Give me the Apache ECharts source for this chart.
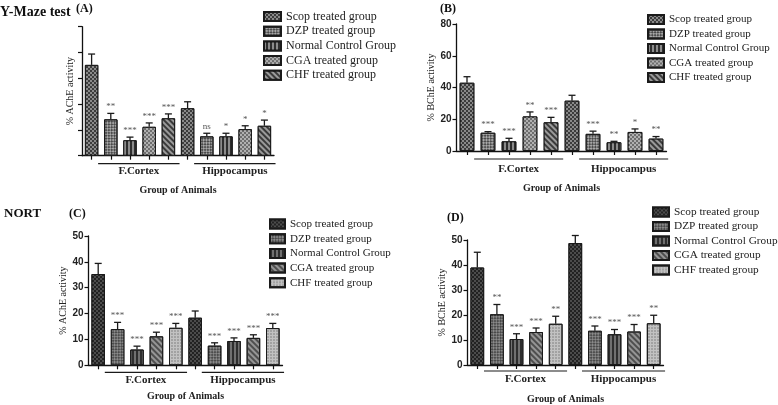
<!DOCTYPE html>
<html>
<head>
<meta charset="utf-8">
<script src="https://cdn.jsdelivr.net/npm/echarts@6/dist/echarts.min.js"></script>
<style>html,body{margin:0;padding:0;background:#fff}#c{width:778px;height:405px}</style>
</head>
<body>
<div id="c"></div>
<script>
// ---------- data ----------
const categories = ['FC-Scop','FC-DZP','FC-Normal','FC-CGA','FC-CHF','HC-Scop','HC-DZP','HC-Normal','HC-CGA','HC-CHF'];
const groupNames = ['Scop treated group','DZP treated group','Normal Control Group','CGA treated group','CHF treated group'];
const regionNames = ['F.Cortex','Hippocampus'];
const regionSpans = [[1,4],[6,9]];
const panelLetters = ['(A)','(B)','(C)','(D)'];
const testNames = ['Y-Maze test','NORT'];
const yNames = ['% AChE activity','% BChE activity','% AChE activity','% BChE activity'];
const xName = 'Group of Animals';

// Panel A: Y-Maze AChE
const aMean = [35.2,14.1,6.0,11.2,14.5,18.4,7.5,7.5,10.3,11.6];
const aErr  = [4.2,2.3,1.2,1.5,1.7,2.5,1.2,1.2,1.3,2.2];
const aSig  = ['','**','***','***','***','','ns','*','*','*'];
// Panel B: Y-Maze BChE
const bMean = [43.0,11.5,6.1,21.8,18.1,31.7,10.8,5.5,12.0,7.8];
const bErr  = [3.8,0.7,1.9,2.8,3.1,3.4,1.7,0.6,1.9,1.3];
const bSig  = ['','***','***','**','***','','***','**','*','**'];
// Panel C: NORT AChE
const cMean = [35.3,14.0,6.1,11.2,14.5,18.4,7.6,9.4,10.6,14.4];
const cErr  = [4.1,2.6,1.3,1.6,1.7,2.6,1.1,1.2,1.2,1.8];
const cSig  = ['','***','***','***','***','','***','***','***','***'];
// Panel D: NORT BChE
const dMean = [39.0,20.3,10.4,13.2,16.5,48.8,13.7,12.3,13.4,16.7];
const dErr  = [6.1,3.9,2.1,1.6,3.0,3.0,1.9,1.9,2.8,3.2];
const dSig  = ['','**','***','***','**','','***','***','***','**'];

const yMax = [50, 80, 50, 50];
const yInterval = [10, 20, 10, 10];
const showYLabels = [false, true, true, true];

// ---------- styling ----------
const SERIF = '"Liberation Serif", "Times New Roman", serif';
const SANS = '"Liberation Sans", Arial, sans-serif';

function checker(color, s, rot) {
  return {symbol:'rect', symbolSize:1, dashArrayX:[[s,s],[0,s,s,0]], dashArrayY:[s,0], rotation:rot||0, color:color};
}
function stripes(color, w, rot) {
  return {symbol:'rect', symbolSize:1, dashArrayX:[w,w], dashArrayY:[6,0], rotation:rot||0, color:color};
}
function dots(color) {
  return {symbol:'circle', symbolSize:0.8, dashArrayX:[2,1], dashArrayY:[2,1], rotation:0, color:color};
}

const styleSets = {
  ym: [
    {color:'#3c3c3c', decal: checker('#8a8a8a',2)},
    {color:'#a8a8a8', decal: checker('#4a4a4a',2,Math.PI/4)},
    {color:'#2e2e2e', decal: stripes('#8c8c8c',1.2)},
    {color:'#6e6e6e', decal: checker('#b0b0b0',1.5)},
    {color:'#3a3a3a', decal: stripes('#9a9a9a',1.3,-Math.PI/4)}
  ],
  nort: [
    {color:'#222222', decal: checker('#4c4c4c',2)},
    {color:'#4a4a4a', decal: checker('#8a8a8a',2,Math.PI/4)},
    {color:'#707070', decal: stripes('#2e2e2e',1.2)},
    {color:'#959595', decal: stripes('#4e4e4e',1.1,-Math.PI/4)},
    {color:'#c2c2c2', decal: dots('#7a7a7a')}
  ]
};

const panels = [
  {id:'A', mean:aMean, err:aErr, sig:aSig, style:'ym', grid:{left:82, top:26.7, width:192, height:129},
   legend:{left:263, top:10.5, font:12, iw:17, ih:9, gap:2.7}, lineOff:8, textOff:15, nameGap:30, yNameGap:7},
  {id:'B', mean:bMean, err:bErr, sig:bSig, style:'ym', grid:{left:456.5, top:24, width:210, height:127},
   legend:{left:647, top:14, font:11, iw:16, ih:9, gap:3.5}, lineOff:8, textOff:18, nameGap:32, yNameGap:18},
  {id:'C', mean:cMean, err:cErr, sig:cSig, style:'nort', grid:{left:88.5, top:236, width:194, height:129.3},
   legend:{left:269, top:218.5, font:11, iw:15, ih:9, gap:3.7}, lineOff:7, textOff:15, nameGap:26, yNameGap:16},
  {id:'D', mean:dMean, err:dErr, sig:dSig, style:'nort', grid:{left:467.5, top:240, width:196, height:129},
   legend:{left:652, top:206.5, font:11.3, iw:16, ih:9, gap:3.5}, lineOff:6, textOff:14, nameGap:29, yNameGap:17}
];

const grids = [], xAxes = [], yAxes = [], series = [], legends = [];

panels.forEach((p, pi) => {
  grids.push(Object.assign({}, p.grid));
  xAxes.push({
    type:'category', gridIndex:pi, data:categories,
    name:xName, nameLocation:'middle', nameGap:p.nameGap,
    nameTextStyle:{fontFamily:SERIF, fontWeight:'bold', fontSize:10, color:'#222'},
    axisLine:{lineStyle:{color:'#111', width:1.3}},
    axisTick:{show:true, alignWithLabel:true, interval:0, length:4, lineStyle:{color:'#111', width:1.2}},
    axisLabel:{show:false}
  });
  yAxes.push({
    type:'value', gridIndex:pi, min:0, max:yMax[pi], interval:yInterval[pi],
    name:yNames[pi], nameLocation:'middle', nameRotate:90, nameGap:p.yNameGap,
    nameTextStyle:{fontFamily:SERIF, fontSize:10, color:'#222'},
    axisLine:{show:true, lineStyle:{color:'#111', width:1.3}},
    axisTick:{show:true, length:4, lineStyle:{color:'#111', width:1.2}},
    axisLabel:{show:showYLabels[pi], fontFamily:SANS, fontWeight:'bold', fontSize:10, color:'#222', margin:5},
    splitLine:{show:false}
  });
  const sty = styleSets[p.style];
  const names = [];
  groupNames.forEach((g, gi) => {
    const nm = p.id + ': ' + g;
    names.push(nm);
    const data = categories.map((c, ci) => (ci % 5 === gi) ? p.mean[ci] : '-');
    series.push({
      type:'bar', name:nm, xAxisIndex:pi, yAxisIndex:pi, stack:'s'+p.id,
      barWidth:'70%', data:data,
      itemStyle:{color:sty[gi].color, decal:sty[gi].decal, borderColor:'#1a1a1a', borderWidth:1},
      emphasis:{disabled:true}, animation:false
    });
  });
  // error bars + significance marks
  series.push({
    type:'custom', name:p.id+'-err', xAxisIndex:pi, yAxisIndex:pi, clip:false, z:5, animation:false,
    data: categories.map((c, ci) => [ci, p.mean[ci], p.err[ci]]),
    encode:{x:0, y:1},
    renderItem:(params, api) => {
      const i = api.value(0), m = api.value(1), e = api.value(2);
      const p0 = api.coord([i, m]), p1 = api.coord([i, m + e]);
      const children = [
        {type:'line', shape:{x1:p0[0], y1:p0[1], x2:p1[0], y2:p1[1]}, style:{stroke:'#1a1a1a', lineWidth:1.3}},
        {type:'line', shape:{x1:p1[0]-3.5, y1:p1[1], x2:p1[0]+3.5, y2:p1[1]}, style:{stroke:'#1a1a1a', lineWidth:1.3}}
      ];
      const s = p.sig[params.dataIndex];
      if (s) children.push({type:'text', x:p1[0], y:p1[1]-2, style:{text:s, fill:'#555', font:'9px ' + SERIF, align:'center', verticalAlign:'bottom'}});
      return {type:'group', children:children};
    }
  });
  // region underline + label
  series.push({
    type:'custom', name:p.id+'-region', xAxisIndex:pi, yAxisIndex:pi, clip:false, z:5, animation:false,
    data: regionSpans.map((r) => [r[0], 0, r[1]]),
    encode:{x:[0,2], y:1},
    renderItem:(params, api) => {
      const bw = api.size([1, 0])[0];
      const a = api.coord([api.value(0), 0]), b = api.coord([api.value(2), 0]);
      const x0 = a[0] - bw * 0.66, x1 = b[0] + bw * 0.58, y = a[1];
      return {type:'group', children:[
        {type:'line', shape:{x1:x0, y1:y+p.lineOff, x2:x1, y2:y+p.lineOff}, style:{stroke:'#1a1a1a', lineWidth:1.2}},
        {type:'text', x:(x0+x1)/2, y:y+p.textOff, style:{text:regionNames[params.dataIndex], fill:'#222', font:'bold 11px ' + SERIF, align:'center', verticalAlign:'middle'}}
      ]};
    }
  });
  legends.push({
    orient:'vertical', left:p.legend.left, top:p.legend.top, padding:0,
    itemWidth:p.legend.iw, itemHeight:p.legend.ih, itemGap:p.legend.gap, icon:'rect',
    data:names, selectedMode:false,
    formatter:(n) => n.slice(3),
    textStyle:{fontFamily:SERIF, fontSize:p.legend.font, color:'#222', padding:[0,0,0,0]}
  });
});

const titles = [
  {text:testNames[0], left:0, top:5, padding:0, textStyle:{fontFamily:SERIF, fontWeight:'bold', fontSize:14, color:'#111'}},
  {text:testNames[1], left:4, top:207, padding:0, textStyle:{fontFamily:SERIF, fontWeight:'bold', fontSize:13, color:'#111'}},
  {text:panelLetters[0], left:76, top:2.5, padding:0, textStyle:{fontFamily:SERIF, fontWeight:'bold', fontSize:12, color:'#111'}},
  {text:panelLetters[1], left:440, top:2.5, padding:0, textStyle:{fontFamily:SERIF, fontWeight:'bold', fontSize:12, color:'#111'}},
  {text:panelLetters[2], left:69, top:208, padding:0, textStyle:{fontFamily:SERIF, fontWeight:'bold', fontSize:12, color:'#111'}},
  {text:panelLetters[3], left:447, top:211.5, padding:0, textStyle:{fontFamily:SERIF, fontWeight:'bold', fontSize:12, color:'#111'}}
];

const chart = echarts.init(document.getElementById('c'), null, {renderer:'canvas'});
chart.setOption({
  backgroundColor:'#fff', animation:false,
  title:titles, grid:grids, xAxis:xAxes, yAxis:yAxes, legend:legends, series:series
});
</script>
</body>
</html>
